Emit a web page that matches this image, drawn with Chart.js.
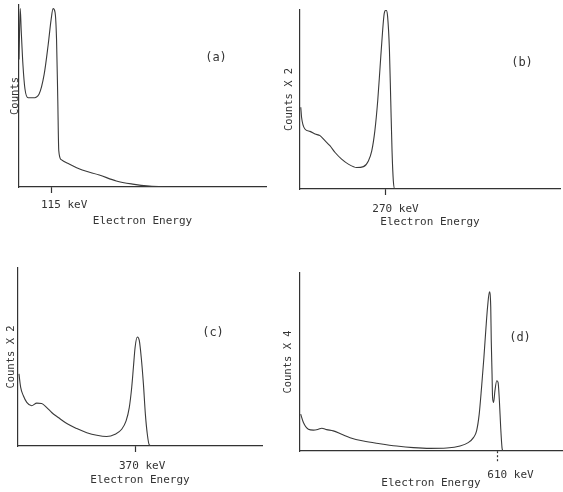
<!DOCTYPE html>
<html>
<head>
<meta charset="utf-8">
<script src="https://cdn.jsdelivr.net/npm/chart.js@4.4.1/dist/chart.umd.min.js"></script>
<style>
    html, body { margin: 0; padding: 0; background: #fff; }
    #figura { position: relative; width: 563px; height: 492px; overflow: hidden; }
    canvas { position: absolute; }
    .rotulo {
        position: absolute;
        font: 12px 'DejaVu Sans Mono', monospace;
        color: #333;
        transform: translate(-50%, -50%);
        white-space: nowrap;
    }
</style>
</head>
<body>
<div id="figura">
    <canvas id="graficoA" width="280" height="240" style="left:0;top:0"></canvas>
    <canvas id="graficoB" width="283" height="240" style="left:280px;top:0"></canvas>
    <canvas id="graficoC" width="280" height="252" style="left:0;top:240px"></canvas>
    <canvas id="graficoD" width="283" height="252" style="left:280px;top:240px"></canvas>
    <div class="rotulo" style="left:216px;top:57px">(a)</div>
    <div class="rotulo" style="left:522px;top:62px">(b)</div>
    <div class="rotulo" style="left:213px;top:332px">(c)</div>
    <div class="rotulo" style="left:520px;top:337px">(d)</div>
</div>
<script>
// Configurações globais
Chart.defaults.font.family = "'DejaVu Sans Mono', monospace";
Chart.defaults.font.size = 11;
Chart.defaults.color = '#333';
Chart.defaults.animation = false;

// Espectros (energia em unidades relativas 0-100, contagens 0-100)
const energyA = [0, 0.5, 0.9, 1.6, 2.4, 3.7, 5.7, 8.1, 10.2, 11.8, 13.0, 13.8, 14.6, 15.2, 15.7, 16.1, 17.1, 20.3, 25.6, 32.5, 39.4, 46, 52.8, 61];
const countsA = [70, 98, 86, 67, 54, 49, 49, 51, 62, 78, 92, 98, 96, 81, 48, 20, 15, 12.6, 9.3, 6.6, 3.3, 1.6, 0.5, 0];

const energyB = [0.3, 0.6, 1.9, 3.8, 5.8, 7.7, 9.6, 11.5, 13.5, 16, 18.6, 21.8, 24.4, 26.3, 27.6, 28.8, 29.9, 30.8, 31.7, 32.4, 33.1, 33.7, 34.4, 34.9, 35.4, 35.9, 36.5, 37];
const countsB = [45.7, 40.1, 33.5, 32.2, 30.7, 29.8, 27, 24.2, 20.4, 16.7, 13.9, 12, 12.5, 15.7, 21.3, 32.6, 49.4, 68.2, 86.9, 98.1, 100, 96.3, 77.5, 49.4, 21.3, 4.5, 0, 0];

const energyC = [0.4, 1.1, 2.2, 3.6, 5.6, 7.7, 9.7, 11.8, 13.8, 16.5, 20, 24.1, 28.2, 32.3, 36.3, 39.8, 42.5, 44.3, 45.6, 46.6, 47.3, 48, 48.9, 49.7, 50.5, 51.4, 52.2, 53, 53.8, 54.8];
const countsC = [40.5, 32.9, 28.2, 24.5, 22.6, 24.1, 23.9, 21.6, 18.8, 16, 12.6, 9.8, 7.5, 6, 5.3, 6.6, 9.4, 14.1, 21.6, 32.9, 44.2, 55.5, 61.2, 59.3, 49.9, 34.9, 17.9, 6.6, 0.6, 0];

const energyD = [0.26, 1.3, 3.2, 5.1, 7, 8.3, 10.2, 12.7, 15.9, 19.1, 24.2, 30.5, 36.9, 43.3, 49.6, 56, 61.1, 64.2, 66.2, 67.4, 68.4, 69.3, 70.2, 71, 71.6, 72.3, 72.8, 73, 73.3, 73.5, 73.9, 74.4, 75.1, 75.6, 76.1, 76.6, 77.1, 77.4];
const countsD = [20.7, 16, 12.2, 11.7, 12.2, 12.8, 12, 11.3, 9.4, 7.5, 5.6, 4.1, 2.8, 1.9, 1.5, 1.7, 2.8, 4.7, 7.5, 11.3, 20.7, 35.8, 52.7, 69.7, 81, 89.4, 81, 62.1, 43.3, 30.1, 27.3, 33.9, 39.5, 38.6, 28.2, 13.2, 1.9, 0];

// Marcas do eixo x (posição do pico) e textos
const peakTicks = [13, 32.7, 48, 75.2];
const peakLabels = ['115 keV', '270 keV', '370 keV', '610 keV'];
const yTitles = ['Counts', 'Counts X 2', 'Counts X 2', 'Counts X 4'];
const xTitle = 'Electron Energy';

// Geometria de cada painel (pixels)
const paineis = [
    { id: 'graficoA', energy: energyA, counts: countsA, axisW: 19, top: 5, right: 14, axisH: 53, yPad: 9.4, labelPad: 6, titlePad: 12.4, labelOffset: 13, dash: [] },
    { id: 'graficoB', energy: energyB, counts: countsB, axisW: 20, top: 10, right: 3, axisH: 51, yPad: 3.4, labelPad: 7.4, titlePad: 11.4, labelOffset: 10.5, dash: [] },
    { id: 'graficoC', energy: energyC, counts: countsC, axisW: 18, top: 28, right: 18, axisH: 46, yPad: 5.4, labelPad: 7.4, titlePad: 5.4, labelOffset: 7, dash: [] },
    { id: 'graficoD', energy: energyD, counts: countsD, axisW: 20, top: 33, right: 1, axisH: 41, yPad: 2.4, labelPad: 5.4, titlePad: 2.4, labelOffset: 13.5, dash: [2, 2] }
];

function criarPainel(p, i) {
    const ctx = document.getElementById(p.id).getContext('2d');
    return new Chart(ctx, {
        type: 'line',
        data: {
            datasets: [{
                data: p.energy.map((e, k) => ({ x: e, y: p.counts[k] })),
                borderColor: '#3a3a3a',
                borderWidth: 1.1,
                pointRadius: 0,
                cubicInterpolationMode: 'monotone',
                fill: false
            }]
        },
        options: {
            responsive: false,
            devicePixelRatio: 1,
            layout: { padding: { left: 0, top: p.top, right: p.right, bottom: 0 } },
            plugins: { legend: { display: false }, tooltip: { enabled: false } },
            scales: {
                x: {
                    type: 'linear',
                    min: 0,
                    max: 100,
                    afterBuildTicks: s => { s.ticks = [{ value: peakTicks[i] }]; },
                    afterFit: s => { s.height = p.axisH; },
                    ticks: {
                        callback: () => peakLabels[i],
                        maxRotation: 0,
                        autoSkip: false,
                        padding: p.labelPad,
                        labelOffset: p.labelOffset,
                        font: { size: 11 }
                    },
                    grid: {
                        drawOnChartArea: false,
                        drawTicks: true,
                        tickLength: p.dash.length ? 12 : 6,
                        tickColor: '#333',
                        tickWidth: 1.2,
                        tickBorderDash: p.dash
                    },
                    border: { display: true, color: '#333', width: 1.2 },
                    title: {
                        display: true,
                        text: xTitle,
                        padding: { top: 0, bottom: p.titlePad },
                        font: { size: 11 }
                    }
                },
                y: {
                    min: 0,
                    max: 100,
                    afterFit: s => { s.width = p.axisW; },
                    ticks: { display: false },
                    grid: { display: false, drawTicks: false },
                    border: { display: true, color: '#333', width: 1.2 },
                    title: {
                        display: true,
                        text: yTitles[i],
                        padding: { top: p.yPad, bottom: 0 },
                        font: { size: 10.5 }
                    }
                }
            }
        }
    });
}

paineis.forEach(criarPainel);
</script>
</body>
</html>
